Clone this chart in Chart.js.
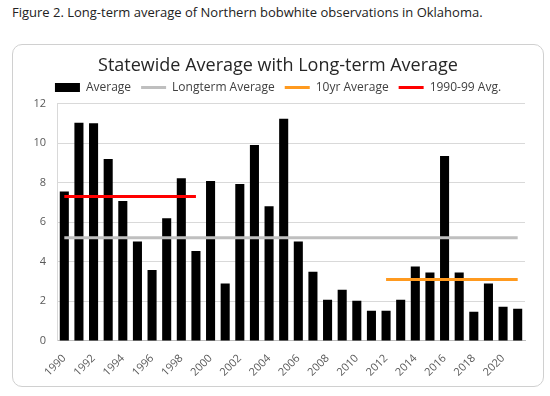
<!DOCTYPE html>
<html lang="en">
<head>
  <meta charset="UTF-8">
  <title>Northern bobwhite observations</title>
  <script src="https://cdn.jsdelivr.net/npm/chart.js"></script>
  <style>
body {
  margin: 0;
  background: #ffffff;
  font-family: 'Open Sans', sans-serif;
  width: 550px;
  height: 396px;
  position: relative;
}

/* Figure caption above the chart */
.caption {
  position: absolute;
  left: 12px;
  top: 3px;
  margin: 0;
  font-size: 13px;
  color: #222222;
}

/* Rounded frame round the chart */
.frame {
  position: absolute;
  left: 12px;
  top: 44px;
  width: 532px;
  height: 343px;
  border: 1px solid #d0d0d0;
  border-radius: 10px;
  box-sizing: border-box;
  overflow: hidden;
}
  </style>
</head>
<body>
  <p class="caption">Figure 2. Long-term average of Northern bobwhite observations in Oklahoma.</p>
  <div class="frame">
    <canvas id="bobwhiteChart" width="530" height="341"></canvas>
  </div>

  <script>
    // Survey years
    const years = ['1990', '1991', '1992', '1993', '1994', '1995', '1996', '1997', '1998', '1999',
                   '2000', '2001', '2002', '2003', '2004', '2005', '2006', '2007', '2008', '2009',
                   '2010', '2011', '2012', '2013', '2014', '2015', '2016', '2017', '2018', '2019',
                   '2020', '2021'];

    // Statewide average per year
    const statewideAvg = [7.55, 11.03, 11.0, 9.2, 7.07, 5.03, 3.58, 6.2, 8.23, 4.55,
                          8.08, 2.9, 7.93, 9.91, 6.81, 11.23, 5.03, 3.5, 2.08, 2.59,
                          2.03, 1.52, 1.52, 2.08, 3.76, 3.46, 9.35, 3.46, 1.47, 2.9,
                          1.73, 1.63];

    // Reference lines: first and last year, and value
    const longtermYears = ['1990', '2021'];
    const longtermValue = [5.22, 5.22];
    const tenYearYears = ['2012', '2021'];
    const tenYearValue = [3.1, 3.1];
    const ninetiesYears = ['1990', '1999'];
    const ninetiesValue = [7.3, 7.3];

    const yTicks = [0, 2, 4, 6, 8, 10, 12];

    function linePoints(xs, ys) {
      return xs.map((x, i) => ({ x: x, y: ys[i] }));
    }

    const tickColor = '#595959';

    const ctx = document.getElementById('bobwhiteChart').getContext('2d');
    new Chart(ctx, {
      type: 'bar',
      data: {
        labels: years,
        datasets: [
          {
            label: 'Average',
            data: statewideAvg,
            backgroundColor: '#000000',
            barPercentage: 0.62,
            categoryPercentage: 1.0,
            pointStyle: 'rect',
            order: 1
          },
          {
            type: 'line',
            label: 'Longterm Average',
            data: linePoints(longtermYears, longtermValue),
            borderColor: '#bfbfbf',
            backgroundColor: '#bfbfbf',
            borderWidth: 3,
            pointRadius: 0,
            pointStyle: 'line',
            order: 0
          },
          {
            type: 'line',
            label: '10yr Average',
            data: linePoints(tenYearYears, tenYearValue),
            borderColor: '#ff9a1f',
            backgroundColor: '#ff9a1f',
            borderWidth: 3,
            pointRadius: 0,
            pointStyle: 'line',
            order: 0
          },
          {
            type: 'line',
            label: '1990-99 Avg.',
            data: linePoints(ninetiesYears, ninetiesValue),
            borderColor: '#ff0000',
            backgroundColor: '#ff0000',
            borderWidth: 3,
            pointRadius: 0,
            pointStyle: 'line',
            order: 0
          }
        ]
      },
      options: {
        responsive: false,
        animation: false,
        layout: { padding: { left: 9, right: 9, top: 4, bottom: 4 } },
        plugins: {
          tooltip: { enabled: false },
          title: {
            display: true,
            text: 'Statewide Average with Long-term Average',
            color: '#262626',
            font: { family: 'Open Sans', size: 18, weight: 'normal' },
            padding: { top: 6, bottom: -5 }
          },
          legend: {
            display: true,
            labels: {
              usePointStyle: true,
              pointStyleWidth: 25,
              boxHeight: 9,
              color: '#404040',
              padding: 10,
              font: { family: 'Open Sans', size: 12 },
              sort: (a, b) => a.datasetIndex - b.datasetIndex
            }
          }
        },
        scales: {
          x: {
            offset: true,
            grid: { display: false },
            border: { color: '#bfbfbf' },
            ticks: {
              autoSkip: false,
              minRotation: 45,
              maxRotation: 45,
              color: tickColor,
              font: { family: 'Open Sans', size: 11 },
              callback: function (value, index) {
                return index % 2 === 0 ? years[index] : '';
              }
            }
          },
          y: {
            min: 0,
            max: 12,
            afterBuildTicks: (scale) => { scale.ticks = yTicks.map(v => ({ value: v })); },
            afterFit: (scale) => { scale.width = 35; },
            grid: { color: '#d9d9d9', drawTicks: false },
            border: { color: '#d9d9d9' },
            ticks: {
              color: tickColor,
              padding: 11,
              font: { family: 'Open Sans', size: 11 }
            }
          },
          // empty right-hand strip so the plot ends where the reference does
          spacer: {
            type: 'linear',
            position: 'right',
            display: true,
            grid: { display: false },
            border: { display: false },
            ticks: { display: false },
            afterFit: (scale) => { scale.width = 9; }
          }
        }
      }
    });
  </script>
</body>
</html>
